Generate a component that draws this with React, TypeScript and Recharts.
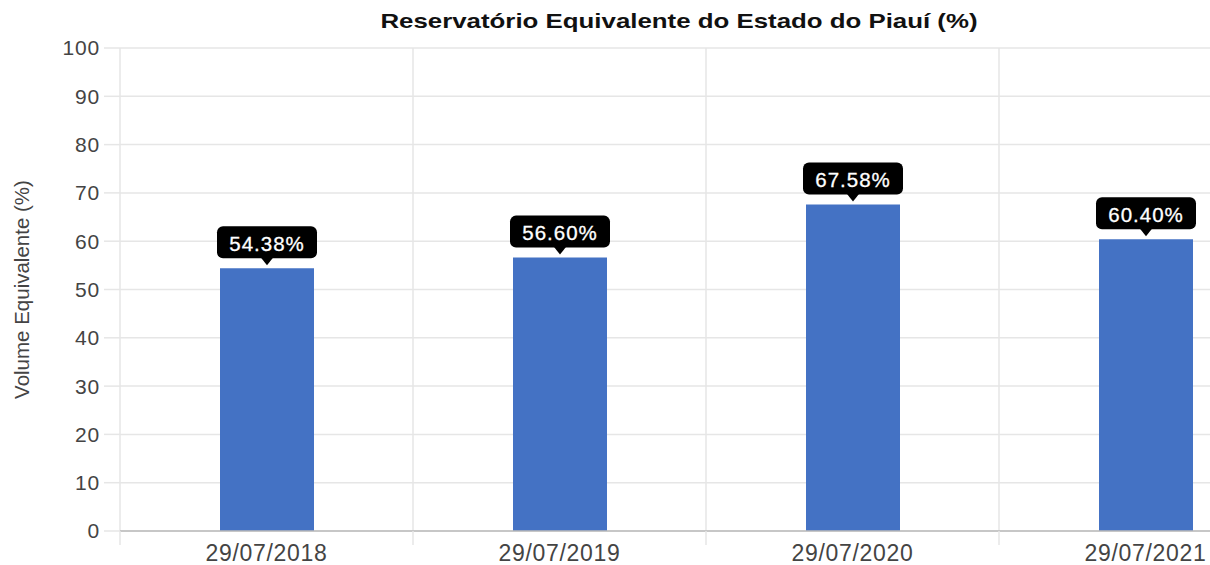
import React from 'react';
import { BarChart, Bar, XAxis, YAxis, CartesianGrid, LabelList, Label } from 'recharts';

const categories = ['29/07/2018', '29/07/2019', '29/07/2020', '29/07/2021'];
const volumes = [54.38, 56.6, 67.58, 60.4];
const yTicks = [0, 10, 20, 30, 40, 50, 60, 70, 80, 90, 100];
const titleText = 'Reservatório Equivalente do Estado do Piauí (%)';
const yAxisTitle = 'Volume Equivalente (%)';

const data = categories.map((c, i) => ({ date: c, value: volumes[i] }));

const FONT = '"Liberation Sans", Arial, sans-serif';

const XTick = (props: any) => {
  const { x, y, payload } = props;
  const off = payload && payload.offset ? payload.offset : 0;
  const bx = x - off;
  return (
    <g>
      <line x1={bx} x2={bx} y1={y - 8} y2={y + 6} stroke="#e6e6e6" strokeWidth={1.5} />
      <text x={x} y={y + 14} textAnchor="middle" dominantBaseline="central" fill="#444" fontSize={23} letterSpacing={0.7} fontFamily={FONT}>
        {payload.value}
      </text>
    </g>
  );
};

const ValueLabel = (props: any) => {
  const { x, y, width, value } = props;
  const cx = x + width / 2;
  const boxW = 100;
  const boxH = 32;
  const gap = 10;
  const bottom = y - gap;
  return (
    <g>
      <rect x={cx - boxW / 2} y={bottom - boxH} width={boxW} height={boxH} rx={6} ry={6} fill="#000" />
      <polygon points={`${cx - 6},${bottom - 0.5} ${cx + 6},${bottom - 0.5} ${cx},${bottom + 7}`} fill="#000" />
      <text x={cx} y={bottom - boxH / 2 + 1} textAnchor="middle" dominantBaseline="central" fill="#fff" fontSize={20.5} letterSpacing={1} fontFamily={FONT} stroke="#fff" strokeWidth={0.3}>
        {Number(value).toFixed(2) + '%'}
      </text>
    </g>
  );
};

const YLabel = (props: any) => {
  const vb = props.viewBox || { x: 0, y: 0, width: 0, height: 0 };
  const cx = vb.x + 21;
  const cy = vb.y + vb.height / 2;
  return (
    <text x={cx} y={cy} transform={`rotate(-90, ${cx}, ${cy})`} textAnchor="middle" dominantBaseline="central" fill="#444" fontSize={20.5} fontFamily={FONT}>
      {yAxisTitle}
    </text>
  );
};

const vGen = (args: any) => {
  const xa = args && args.xAxis;
  if (xa && typeof xa.scale === 'function') {
    const pts = categories.map((c) => xa.scale(c)).filter((v: any) => typeof v === 'number' && !isNaN(v));
    if (pts.length === categories.length) return pts;
  }
  const off = args && args.offset;
  if (off && typeof off.left === 'number' && typeof off.width === 'number') {
    const band = off.width / categories.length;
    return categories.map((_, i) => off.left + i * band);
  }
  return [];
};

export default function App() {
  return (
    <div style={{ position: 'fixed', left: 0, top: 0, width: 1210, height: 565, overflow: 'hidden', background: '#fff' }}>
      <div
        style={{
          position: 'absolute',
          left: 0,
          top: 9,
          width: 1358,
          textAlign: 'center',
          fontFamily: FONT,
          fontWeight: 'bold',
          fontSize: 21,
          color: '#111',
          transform: 'scaleX(1.23)',
          transformOrigin: '679px 0',
          whiteSpace: 'nowrap',
          zIndex: 2,
        }}
      >
        {titleText}
      </div>
      <BarChart width={1360} height={565} data={data} margin={{ top: 48, right: 68, bottom: 0, left: 0 }}>
        <CartesianGrid stroke="#e6e6e6" strokeWidth={1.5} verticalCoordinatesGenerator={vGen} />
        <XAxis dataKey="date" height={34} tickLine={false} axisLine={{ stroke: '#bbb', strokeWidth: 1.5 }} tick={<XTick />} interval={0} />
        <YAxis
          width={120}
          domain={[0, 100]}
          ticks={yTicks}
          interval={0}
          axisLine={false}
          tickLine={{ stroke: '#e6e6e6', strokeWidth: 1.5 }}
          tickSize={16}
          tickMargin={4}
          tick={{ fill: '#444', fontSize: 21, fontFamily: FONT, letterSpacing: 0.8 }}
        >
          <Label content={<YLabel />} />
        </YAxis>
        <Bar dataKey="value" fill="#4472C4" barSize={94} isAnimationActive={false}>
          <LabelList dataKey="value" content={<ValueLabel />} />
        </Bar>
      </BarChart>
    </div>
  );
}
